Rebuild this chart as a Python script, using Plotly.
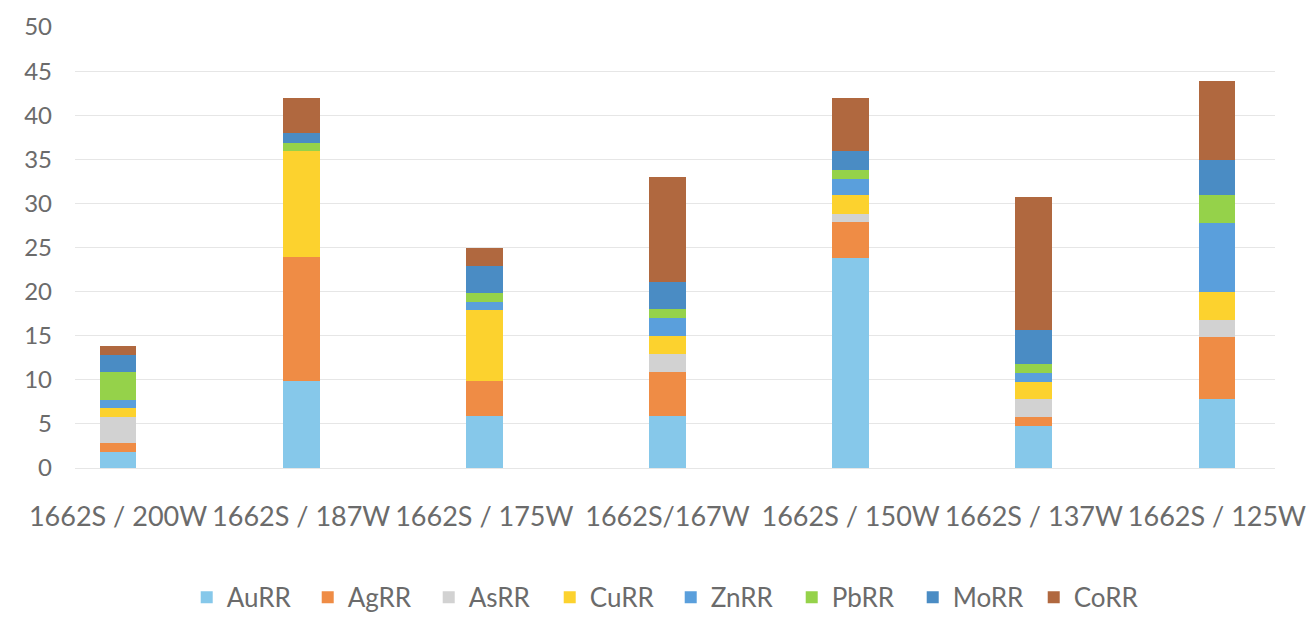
import plotly.graph_objects as go

# Sampling sites along line 1662S
sites = ["1662S / 200W", "1662S / 187W", "1662S / 175W", "1662S/167W",
         "1662S / 150W", "1662S / 137W", "1662S / 125W"]

# Recovery ratios per element at each site
AuRR = [1.8, 9.9, 5.9, 5.9, 23.8, 4.8, 7.8]
AgRR = [1.0, 14.0, 4.0, 5.0, 4.1, 1.0, 7.1]
AsRR = [3.0, 0.0, 0.0, 2.0, 0.9, 2.0, 1.9]
CuRR = [1.0, 12.0, 8.0, 2.1, 2.1, 2.0, 3.1]
ZnRR = [0.95, 0.0, 0.9, 2.0, 1.9, 0.95, 7.9]
PbRR = [3.1, 0.95, 1.05, 1.0, 1.0, 1.05, 3.1]
MoRR = [2.0, 1.1, 3.1, 3.05, 2.1, 3.9, 4.0]
CoRR = [1.0, 4.0, 2.0, 12.0, 6.0, 15.0, 9.0]

y_ticks = [0, 5, 10, 15, 20, 25, 30, 35, 40, 45, 50]

series = [
    ("AuRR", AuRR, "#86C8EA"),
    ("AgRR", AgRR, "#EF8C45"),
    ("AsRR", AsRR, "#D2D2D2"),
    ("CuRR", CuRR, "#FCD22E"),
    ("ZnRR", ZnRR, "#5A9FDC"),
    ("PbRR", PbRR, "#95D24A"),
    ("MoRR", MoRR, "#4A8CC4"),
    ("CoRR", CoRR, "#B0683F"),
]

FONT = "Lato"
TEXT_COLOR = "#6b6b6b"

fig = go.Figure()
for name, vals, color in series:
    fig.add_trace(go.Bar(
        name=name,
        x=list(range(len(sites))),
        y=vals,
        width=0.2,
        marker=dict(color=color, line=dict(width=0)),
    ))

fig.update_layout(
    barmode="stack",
    width=1310,
    height=617,
    margin=dict(l=75, r=35, t=27, b=149, autoexpand=False),
    paper_bgcolor="white",
    plot_bgcolor="white",
    font=dict(family=FONT, color=TEXT_COLOR),
    legend=dict(
        orientation="h",
        xref="container", yref="container",
        x=0.512, y=0.032,
        xanchor="center", yanchor="middle",
        font=dict(family=FONT, size=26, color=TEXT_COLOR),
        traceorder="normal",
        entrywidth=76,
    ),
    showlegend=True,
)

fig.update_xaxes(
    range=[-0.235, 6.317],
    tickmode="array",
    tickvals=list(range(len(sites))),
    ticktext=sites,
    tickangle=0,
    automargin=False,
    tickfont=dict(family=FONT, size=27, color=TEXT_COLOR),
    ticklabelstandoff=30,
    showgrid=False,
    showline=False,
    zeroline=False,
)

fig.update_yaxes(
    range=[0, 50],
    tickmode="array",
    tickvals=y_ticks,
    automargin=False,
    tickfont=dict(family=FONT, size=24, color=TEXT_COLOR),
    ticklabelstandoff=22,
    showgrid=True,
    gridcolor="#e6e6e6",
    gridwidth=1,
    zeroline=True,
    zerolinecolor="#e6e6e6",
    zerolinewidth=1,
    showline=False,
)

fig.write_html("out.html")
